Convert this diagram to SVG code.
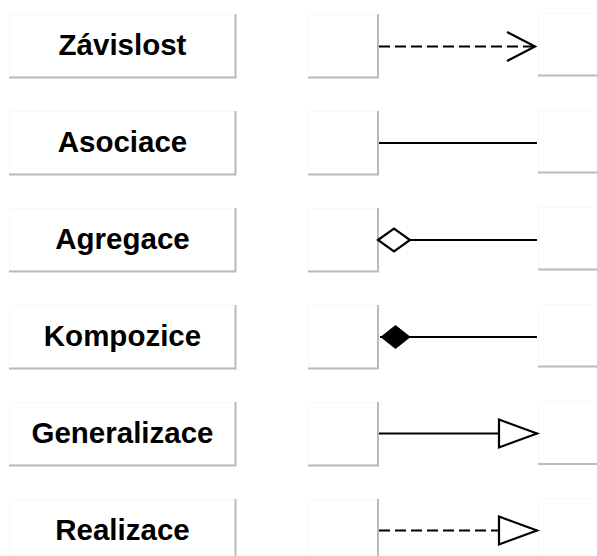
<svg xmlns="http://www.w3.org/2000/svg" width="597" height="556" viewBox="0 0 597 556">
  <style>
    .box { fill: #ffffff; stroke: #f8f8f8; stroke-width: 1; }
    .edge { fill: none; stroke: #bababa; stroke-width: 2; }
    .label { font-family: "Liberation Sans", Arial, sans-serif; font-weight: bold; font-size: 29.5px; fill: #000000; text-anchor: middle; }
    .conn { fill: none; stroke: #000000; stroke-width: 2.2; }
    .dash { stroke-dasharray: 11 5; }
  </style>
  <defs>
    <!-- open V arrowhead (dependency) -->
    <marker id="openArrow" markerUnits="userSpaceOnUse" viewBox="0 0 32 32" refX="29" refY="16" markerWidth="32" markerHeight="32" orient="auto" overflow="visible">
      <path d="M1,1.5 L29,16 L1,30.5" fill="none" stroke="#000" stroke-width="2.2" stroke-dasharray="none"/>
    </marker>
    <!-- hollow triangle (generalization / realization) -->
    <marker id="hollowTriangle" markerUnits="userSpaceOnUse" viewBox="0 0 40 32" refX="38" refY="16" markerWidth="40" markerHeight="32" orient="auto" overflow="visible">
      <path d="M0,2 L38,16 L0,30 Z" fill="#fff" stroke="#000" stroke-width="2.2" stroke-linejoin="miter" stroke-dasharray="none"/>
    </marker>
    <!-- hollow diamond (aggregation) -->
    <marker id="hollowDiamond" markerUnits="userSpaceOnUse" viewBox="0 0 36 26" refX="1" refY="13" markerWidth="36" markerHeight="26" orient="auto" overflow="visible">
      <path d="M1,13 L17,1.5 L33,13 L17,24.5 Z" fill="#fff" stroke="#000" stroke-width="2.2" stroke-dasharray="none"/>
    </marker>
    <!-- filled diamond (composition) -->
    <marker id="filledDiamond" markerUnits="userSpaceOnUse" viewBox="0 0 36 26" refX="1" refY="13" markerWidth="36" markerHeight="26" orient="auto" overflow="visible">
      <path d="M2,13 L16.5,1.5 L31,13 L16.5,24.5 Z" fill="#000" stroke="#000" stroke-width="1" stroke-dasharray="none"/>
    </marker>
  </defs>

  <rect width="597" height="556" fill="#ffffff"/>

  <!-- label nodes -->
  <g id="label-zavislost">
    <rect class="box" x="9.5" y="14.5" width="226" height="62"/>
    <path class="edge" d="M235.5,14 V77.5 H9"/>
    <text class="label" x="122.5" y="55">Závislost</text>
  </g>
  <g id="label-asociace">
    <rect class="box" x="9.5" y="111.5" width="226" height="62"/>
    <path class="edge" d="M235.5,111 V174.5 H9"/>
    <text class="label" x="122.5" y="152">Asociace</text>
  </g>
  <g id="label-agregace">
    <rect class="box" x="9.5" y="208.5" width="226" height="62"/>
    <path class="edge" d="M235.5,208 V271.5 H9"/>
    <text class="label" x="122.5" y="249">Agregace</text>
  </g>
  <g id="label-kompozice">
    <rect class="box" x="9.5" y="305.5" width="226" height="62"/>
    <path class="edge" d="M235.5,305 V368.5 H9"/>
    <text class="label" x="122.5" y="346">Kompozice</text>
  </g>
  <g id="label-generalizace">
    <rect class="box" x="9.5" y="402.5" width="226" height="62"/>
    <path class="edge" d="M235.5,402 V465.5 H9"/>
    <text class="label" x="122.5" y="443">Generalizace</text>
  </g>
  <g id="label-realizace">
    <rect class="box" x="9.5" y="499.5" width="226" height="62"/>
    <path class="edge" d="M235.5,499 V562.5 H9"/>
    <text class="label" x="122.5" y="540">Realizace</text>
  </g>

  <!-- source class nodes -->
  <g id="src-1"><rect class="box" x="308.5" y="14.5" width="70" height="62"/><path class="edge" d="M378,14 V77.5 H308"/></g>
  <g id="src-2"><rect class="box" x="308.5" y="111.5" width="70" height="62"/><path class="edge" d="M378,111 V174.5 H308"/></g>
  <g id="src-3"><rect class="box" x="308.5" y="208.5" width="70" height="62"/><path class="edge" d="M378,208 V271.5 H308"/></g>
  <g id="src-4"><rect class="box" x="308.5" y="305.5" width="70" height="62"/><path class="edge" d="M378,305 V368.5 H308"/></g>
  <g id="src-5"><rect class="box" x="308.5" y="402.5" width="70" height="62"/><path class="edge" d="M378,402 V465.5 H308"/></g>
  <g id="src-6"><rect class="box" x="308.5" y="499.5" width="70" height="62"/><path class="edge" d="M378,499 V562.5 H308"/></g>

  <!-- target class nodes -->
  <g id="dst-1"><rect class="box" x="538.5" y="13.5" width="70" height="62"/><path class="edge" d="M538,75.5 H597"/></g>
  <g id="dst-2"><rect class="box" x="538.5" y="110.5" width="70" height="62"/><path class="edge" d="M538,172.5 H597"/></g>
  <g id="dst-3"><rect class="box" x="538.5" y="207.5" width="70" height="62"/><path class="edge" d="M538,269.5 H597"/></g>
  <g id="dst-4"><rect class="box" x="538.5" y="304.5" width="70" height="62"/><path class="edge" d="M538,366.5 H597"/></g>
  <g id="dst-5"><rect class="box" x="538.5" y="401.5" width="70" height="62"/><path class="edge" d="M538,464 H597"/></g>
  <g id="dst-6"><rect class="box" x="538.5" y="498.5" width="70" height="62"/><path class="edge" d="M538,561 H597"/></g>

  <!-- connectors -->
  <g id="connectors">
    <line class="conn dash" x1="379" y1="46.5" x2="535" y2="46.5" marker-end="url(#openArrow)"/>
    <line class="conn" x1="379" y1="143" x2="537" y2="143"/>
    <line class="conn" x1="378" y1="240" x2="537" y2="240" marker-start="url(#hollowDiamond)"/>
    <line class="conn" x1="380" y1="337" x2="537" y2="337" marker-start="url(#filledDiamond)"/>
    <line class="conn" x1="379" y1="433.5" x2="537" y2="433.5" marker-end="url(#hollowTriangle)"/>
    <line class="conn dash" x1="379" y1="530.5" x2="537" y2="530.5" marker-end="url(#hollowTriangle)"/>
  </g>
</svg>
